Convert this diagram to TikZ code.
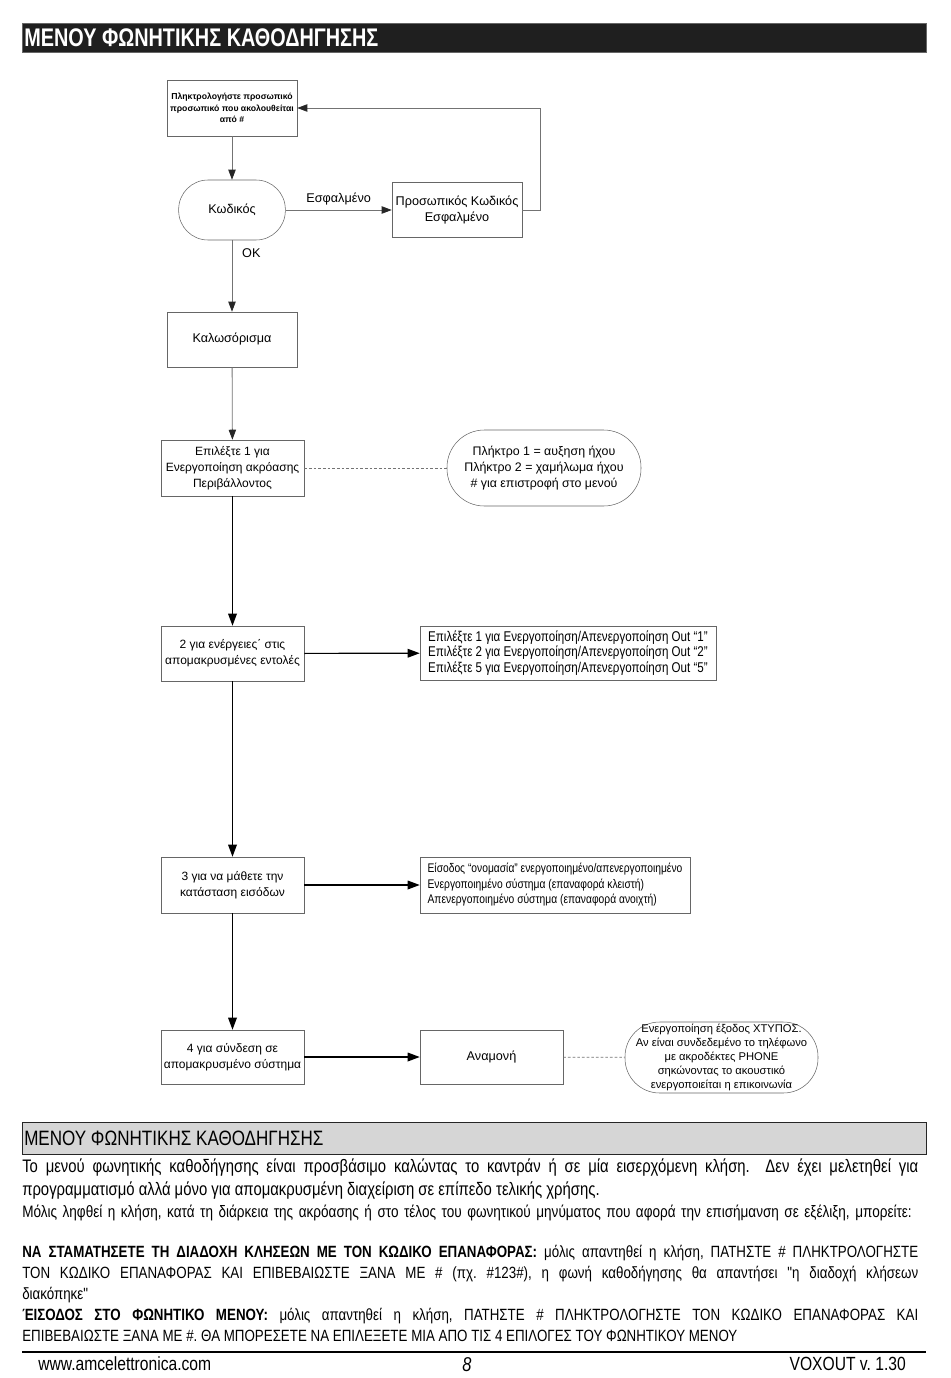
\documentclass[tikz,border=0pt]{standalone}
\usepackage{fontspec}
\setmainfont{Liberation Sans}
\newfontfamily\narrowfont[FakeStretch=0.82]{Liberation Sans}
\newfontfamily\headfont[FakeStretch=0.78]{Liberation Sans}
\usetikzlibrary{arrows.meta,positioning,shapes.misc}
\frenchspacing

\tikzset{
  box/.style={draw=black!60,rectangle,align=center,inner sep=1pt,font=\fontsize{9}{12}\selectfont},
  pill/.style={draw=black!60,rectangle,align=center,inner sep=0pt},
  grayarrow/.style={draw=black!55,line width=0.6pt,-{Triangle[length=7.5pt,width=5.5pt,color=black!85]}},
  blackarrow/.style={draw=black,line width=0.9pt,-{Triangle[length=9pt,width=6.5pt]}},
  dashlink/.style={draw=black!55,line width=0.5pt,dash pattern=on 2pt off 1.5pt},
  para/.style={anchor=north west,inner sep=0pt,text width=672pt,align=justify},
}

\begin{document}
\begin{tikzpicture}[x=0.75pt,y=-0.75pt]
  \useasboundingbox (0,0) rectangle (950,1378);

  % title bar
  \node[fill=black!88,draw=black!60,anchor=north west,inner sep=0pt,minimum width=678pt,minimum height=21.75pt] (titlebar) at (22,23) {};
  \node[anchor=west,inner sep=0pt,text=white,font=\headfont\bfseries\fontsize{19.1}{19.1}\selectfont] (title) at (24,38) {ΜΕΝΟΥ ΦΩΝΗΤΙΚΗΣ ΚΑΘΟΔΗΓΗΣΗΣ};

  % flow chart
  \node[box,minimum width=97.5pt,minimum height=42pt,font=\bfseries\fontsize{6.5}{8.6}\selectfont] (askcode) at (232,108) {Πληκτρολογήστε προσωπικό\\προσωπικό που ακολουθείται\\από \#};
  \node[pill,rounded corners=22pt,minimum width=80pt,minimum height=45pt,font=\fontsize{9.5}{12}\selectfont] (code) at (232,210) {Κωδικός};
  \node[box,minimum width=97.5pt,minimum height=41.25pt,font=\fontsize{9.5}{12}\selectfont] (wrong) at (457,210) {Προσωπικός Κωδικός\\Εσφαλμένο};
  \node[box,minimum width=97.5pt,minimum height=41.25pt,font=\fontsize{9.5}{12}\selectfont] (welcome) at (232,339.5) {Καλωσόρισμα};
  \node[box,minimum width=107.25pt,minimum height=42pt] (listen) at (232.5,468) {Επιλέξτε 1 για\\Ενεργοποίηση ακρόασης\\Περιβάλλοντος};
  \node[pill,rounded corners=28pt,minimum width=145.5pt,minimum height=57pt,font=\fontsize{9.3}{12}\selectfont] (volume) at (544,468) {Πλήκτρο 1 = αυξηση ήχου\\Πλήκτρο 2 = χαμήλωμα ήχου\\\# για επιστροφή στο μενού};
  \node[box,minimum width=107.25pt,minimum height=41.25pt] (remote) at (232.5,653.5) {2 για ενέργειες΄ στις\\απομακρυσμένες εντολές};
  \node[box,minimum width=222pt,minimum height=40.5pt,align=left,inner sep=1pt,font=\narrowfont\fontsize{10.6}{11.6}\selectfont] (outs) at (568,653) {Επιλέξτε 1 για Ενεργοποίηση/Απενεργοποίηση Out “1”\\Επιλέξτε 2 για Ενεργοποίηση/Απενεργοποίηση Out “2”\\Επιλέξτε 5 για Ενεργοποίηση/Απενεργοποίηση Out “5”};
  \node[box,minimum width=202.5pt,minimum height=42pt,align=left,inner sep=1pt,font=\narrowfont\fontsize{9.4}{11.6}\selectfont] (instate) at (555,885) {Είσοδος “ονομασία” ενεργοποιημένο/απενεργοποιημένο\\Ενεργοποιημένο σύστημα (επαναφορά κλειστή)\\Απενεργοποιημένο σύστημα (επαναφορά ανοιχτή)};
  \node[box,minimum width=107.25pt,minimum height=42pt] (instatus) at (232.5,885) {3 για να μάθετε την\\κατάσταση εισόδων};
  \node[box,minimum width=107.25pt,minimum height=40.5pt] (connect) at (232.5,1057) {4 για σύνδεση σε\\απομακρυσμένο σύστημα};
  \node[box,minimum width=107.25pt,minimum height=40.5pt,font=\fontsize{9.5}{12}\selectfont] (standby) at (491.5,1057) {Αναμονή};
  \node[pill,rounded corners=26pt,minimum width=144.75pt,minimum height=53.25pt,font=\fontsize{8.4}{10.5}\selectfont] (phone) at (721.5,1057.5) {Ενεργοποίηση έξοδος ΧΤΥΠΟΣ.\\Αν είναι συνδεδεμένο το τηλέφωνο\\με ακροδέκτες PHONE\\σηκώνοντας το ακουστικό\\ενεργοποιείται η επικοινωνία};

  \draw[grayarrow] (askcode) -- (code);
  \draw[grayarrow] (code) -- node[above,font=\fontsize{9.5}{12}\selectfont]{Εσφαλμένο} (wrong);
  \draw[grayarrow] (wrong.east) -- ++(18,0) |- (askcode.east);
  \draw[grayarrow] (code) -- node[pos=0.18,right=4pt,font=\fontsize{9.5}{12}\selectfont]{OK} (welcome);
  \draw[grayarrow] (welcome) -- (listen);
  \draw[dashlink] (listen) -- (volume);
  \draw[blackarrow] (listen) -- (remote);
  \draw[blackarrow] (remote) -- (outs);
  \draw[blackarrow] (remote) -- (instatus);
  \draw[blackarrow] (instatus) -- (instate);
  \draw[blackarrow] (instatus) -- (connect);
  \draw[blackarrow] (connect) -- (standby);
  \draw[dashlink] (standby) -- (phone);

  % section bar and text
  \node[fill=black!16,draw=black!85,line width=0.8pt,anchor=north west,inner sep=0pt,minimum width=678pt,minimum height=24pt] (sectionbar) at (22,1122) {};
  \node[anchor=west,inner sep=0pt,font=\narrowfont\fontsize{15.6}{15.6}\selectfont] (section) at (24,1138) {ΜΕΝΟΥ ΦΩΝΗΤΙΚΗΣ ΚΑΘΟΔΗΓΗΣΗΣ};

  \node[para,font=\narrowfont\fontsize{13.6}{17.25}\selectfont] (intro) at (22,1159) {Το μενού φωνητικής καθοδήγησης είναι προσβάσιμο καλώντας το καντράν ή σε μία εισερχόμενη κλήση.~ Δεν έχει μελετηθεί για\linebreak προγραμματισμό αλλά μόνο για απομακρυσμένη διαχείριση σε επίπεδο τελικής χρήσης.};
  \node[para,align=left,font=\narrowfont\fontsize{12.4}{14}\selectfont] (during) at (22,1205) {Μόλις ληφθεί η κλήση, κατά τη διάρκεια της ακρόασης ή στο τέλος του φωνητικού μηνύματος που αφορά την επισήμανση σε εξέλιξη, μπορείτε:};
  \node[para,font=\narrowfont\fontsize{12.2}{15.75}\selectfont] (stopcalls) at (22,1245) {\textbf{ΝΑ ΣΤΑΜΑΤΗΣΕΤΕ ΤΗ ΔΙΑΔΟΧΗ ΚΛΗΣΕΩΝ ΜΕ ΤΟΝ ΚΩΔΙΚΟ ΕΠΑΝΑΦΟΡΑΣ:} μόλις απαντηθεί η κλήση, ΠΑΤΗΣΤΕ \# ΠΛΗΚΤΡΟΛΟΓΗΣΤΕ\linebreak ΤΟΝ ΚΩΔΙΚΟ ΕΠΑΝΑΦΟΡΑΣ ΚΑΙ ΕΠΙΒΕΒΑΙΩΣΤΕ ΞΑΝΑ ΜΕ \# (πχ. \#123\#), η φωνή καθοδήγησης θα απαντήσει "η διαδοχή κλήσεων\linebreak διακόπηκε"\par \textbf{ΈΙΣΟΔΟΣ ΣΤΟ ΦΩΝΗΤΙΚΟ ΜΕΝΟΥ:} μόλις απαντηθεί η κλήση, ΠΑΤΗΣΤΕ \# ΠΛΗΚΤΡΟΛΟΓΗΣΤΕ ΤΟΝ ΚΩΔΙΚΟ ΕΠΑΝΑΦΟΡΑΣ ΚΑΙ\linebreak ΕΠΙΒΕΒΑΙΩΣΤΕ ΞΑΝΑ ΜΕ \#. ΘΑ ΜΠΟΡΕΣΕΤΕ ΝΑ ΕΠΙΛΕΞΕΤΕ ΜΙΑ ΑΠΟ ΤΙΣ 4 ΕΠΙΛΟΓΕΣ ΤΟΥ ΦΩΝΗΤΙΚΟΥ ΜΕΝΟΥ};

  % footer
  \coordinate (ruleleft) at (22,1352);
  \coordinate (ruleright) at (926,1352);
  \draw[line width=1.5pt] (ruleleft) -- (ruleright);
  \node[anchor=west,inner sep=0pt,font=\narrowfont\fontsize{14.3}{14.3}\selectfont] (website) at (38,1364) {www.amcelettronica.com};
  \node[inner sep=0pt,font=\narrowfont\itshape\fontsize{15}{15}\selectfont] (pagenum) at (467,1365) {8};
  \node[anchor=east,inner sep=0pt,font=\narrowfont\fontsize{14.3}{14.3}\selectfont] (version) at (906,1364) {VOXOUT v. 1.30};
\end{tikzpicture}
\end{document}
